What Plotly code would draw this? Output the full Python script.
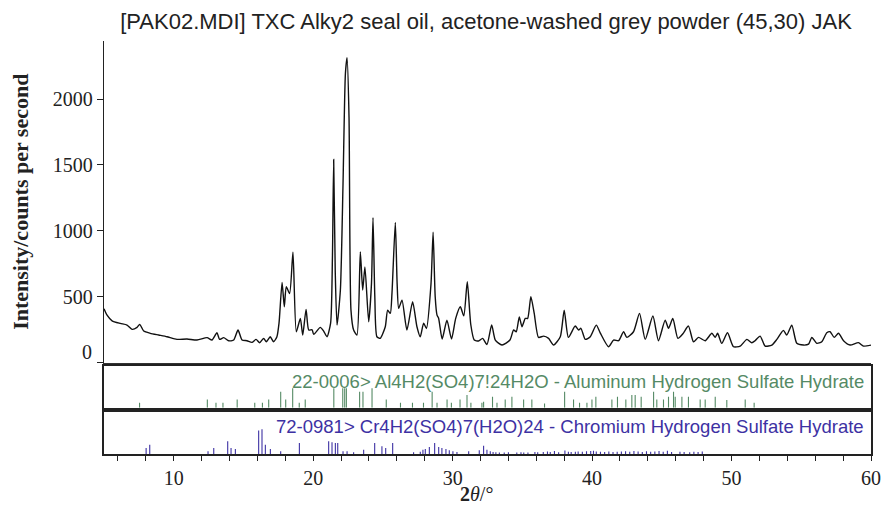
import plotly.graph_objects as go

# ---------------- data ----------------
two_theta = [5.0, 5.22, 5.58, 6.17, 6.65, 7.01, 7.37, 7.56, 7.85, 8.32, 8.92, 9.52, 10.23, 10.95,
             11.67, 12.39, 12.74, 13.1, 13.29, 13.58, 13.94, 14.3, 14.61, 14.9, 15.25, 15.61, 15.9,
             16.16, 16.45, 16.64, 16.92, 17.16, 17.4, 17.55, 17.77, 17.93, 18.07, 18.31, 18.55, 18.79,
             19.08, 19.25, 19.49, 19.68, 19.92, 20.04, 20.51, 20.75, 20.99, 21.25, 21.38, 21.47, 21.58,
             21.71, 21.95, 22.14, 22.31, 22.43, 22.57, 22.71, 22.9, 23.14, 23.38, 23.55, 23.71, 23.98,
             24.18, 24.29, 24.42, 24.57, 24.81, 25.17, 25.34, 25.53, 25.65, 25.89, 26.02, 26.13, 26.37,
             26.72, 27.13, 27.44, 27.68, 27.92, 28.12, 28.45, 28.6, 28.75, 28.88, 28.99, 29.25, 29.59,
             29.92, 30.22, 30.55, 30.8, 31.05, 31.3, 31.55, 31.86, 32.15, 32.46, 32.8, 33.06, 33.54,
             34.11, 34.37, 34.56, 34.78, 34.97, 35.21, 35.38, 35.61, 35.85, 36.16, 36.52, 36.88, 37.24,
             37.72, 38.0, 38.3, 38.79, 39.03, 39.2, 39.51, 39.87, 40.3, 40.58, 41.18, 41.54, 41.9,
             42.26, 42.49, 42.97, 43.4, 43.81, 44.36, 44.76, 45.24, 45.48, 45.79, 46.15, 46.51, 46.91,
             47.27, 47.63, 48.11, 48.59, 48.83, 49.0, 49.3, 49.71, 50.14, 50.62, 51.1, 51.45, 51.69,
             52.05, 52.41, 52.89, 53.25, 53.72, 53.96, 54.32, 54.68, 55.16, 55.52, 55.76, 56.11, 56.47,
             56.83, 57.07, 57.36, 57.67, 58.03, 58.5, 59.1, 59.46, 60.0]
intensity = [410, 361, 318, 298, 286, 253, 268, 291, 240, 223, 210, 197, 177, 180,
             172, 190, 172, 227, 177, 190, 167, 172, 248, 172, 167, 154, 177,
             152, 185, 159, 197, 159, 197, 300, 608, 424, 576, 525, 838, 235,
             336, 210, 404, 248, 250, 215, 268, 240, 197, 300, 800, 1541, 700,
             286, 551, 1359, 2192, 2314, 1864, 399, 248, 210, 841, 551, 727, 311,
             600, 1100, 500, 197, 185, 273, 399, 374, 526, 1063, 600, 412, 475,
             248, 462, 273, 197, 300, 260, 600, 990, 500, 361, 340, 180, 323,
             180, 336, 424, 355, 614, 290, 172, 165, 185, 138, 286, 172, 134,
             172, 248, 235, 348, 273, 336, 336, 500, 374, 192, 202, 185, 134,
             197, 399, 192, 278, 248, 261, 177, 197, 285, 227, 121, 172, 167,
             235, 192, 235, 374, 177, 354, 167, 323, 261, 336, 185, 220, 278,
             159, 192, 167, 223, 192, 223, 147, 227, 121, 126, 177, 152, 167,
             202, 126, 134, 177, 245, 210, 285, 147, 134, 141, 192, 147, 159,
             227, 235, 192, 223, 167, 134, 152, 126, 134]

al_pos = [7.55, 12.41, 13.03, 13.53, 14.55, 15.81, 16.36, 16.81, 17.67, 18.03, 18.53, 19.0, 19.43,
          21.48, 22.12, 22.26, 22.38, 23.33, 23.57, 24.22, 25.24, 26.26, 27.12, 27.91, 28.53, 28.88,
          29.6, 29.91, 30.53, 31.03, 31.31, 32.1, 32.22, 32.86, 33.18, 33.77, 34.25, 35.09, 35.68,
          36.59, 38.03, 38.67, 39.1, 39.63, 39.99, 40.27, 41.42, 41.82, 42.42, 42.85, 43.09, 43.52,
          44.41, 44.64, 45.12, 45.48, 45.84, 45.96, 46.44, 46.91, 47.75, 48.11, 48.83, 49.66, 50.98,
          51.62]
al_int = [26, 43, 26, 26, 43, 26, 26, 43, 83, 43, 100, 26, 43,
          100, 100, 100, 100, 83, 83, 100, 43, 26, 26, 26, 83, 26,
          43, 26, 43, 66, 26, 26, 31, 57, 26, 43, 57, 43, 43,
          22, 83, 43, 26, 26, 43, 57, 43, 57, 43, 66, 66, 57,
          83, 43, 43, 57, 83, 57, 57, 57, 43, 43, 57, 40, 43,
          26]

cr_pos = [8.02, 8.28, 12.46, 12.87, 13.87, 14.11, 14.42, 16.09, 16.33, 16.57, 16.93, 17.67, 19.01,
          21.11, 21.35, 21.59, 21.76, 22.14, 22.43, 22.9, 23.62, 24.41, 24.93, 25.2, 25.7, 27.2,
          27.68, 27.87, 28.04, 28.33, 28.71, 29.0, 29.23, 29.52, 29.76, 30.02, 30.31, 31.15, 31.91,
          32.22, 32.46, 32.7, 32.9, 33.1, 33.35, 33.7, 34.0, 34.6, 34.9, 35.1, 35.4, 35.9, 36.1,
          36.5, 36.8, 37.0, 37.3, 37.6, 38.05, 38.3, 38.5, 38.8, 39.0, 39.3, 39.6, 39.9, 40.1,
          40.3, 40.6, 40.9, 41.2, 41.5, 41.8, 42.1, 42.4, 42.7, 43.0, 43.3, 43.6, 43.9, 44.2,
          44.5, 44.8, 45.1, 45.4, 45.7, 46.3, 46.6, 47.0, 47.3, 47.6, 47.9]
cr_int = [24, 37, 11, 24, 51, 24, 20, 95, 100, 37, 20, 11, 44,
          51, 47, 44, 44, 11, 11, 7, 17, 44, 31, 24, 44, 7,
          9, 17, 20, 28, 44, 28, 24, 20, 15, 11, 8, 11, 15,
          33, 17, 11, 8, 7, 6, 6, 7, 6, 7, 6, 6, 8, 7,
          8, 10, 8, 12, 7, 14, 9, 8, 9, 10, 9, 11, 12, 13,
          10, 9, 8, 10, 8, 9, 10, 11, 9, 12, 10, 8, 11, 9,
          10, 12, 9, 13, 8, 9, 8, 7, 9, 8, 10]

x_tick_vals = [6, 8, 10, 12, 14, 16, 18, 20, 22, 24, 26, 28, 30, 32, 34, 36, 38, 40, 42, 44,
               46, 48, 50, 52, 54, 56, 58, 60]
x_tick_text = ["", "", "10", "", "", "", "", "20", "", "", "", "", "30", "", "", "", "", "40",
               "", "", "", "", "50", "", "", "", "", "60"]
y_tick_vals = [0, 500, 1000, 1500, 2000]
y_tick_text = ["", "500", "1000", "1500", "2000"]

title_text = "[PAK02.MDI] TXC Alky2 seal oil, acetone-washed grey powder (45,30) JAK"
al_label = "22-0006> Al4H2(SO4)7!24H2O - Aluminum Hydrogen Sulfate Hydrate"
cr_label = "72-0981> Cr4H2(SO4)7(H2O)24 - Chromium Hydrogen Sulfate Hydrate"

AL_COLOR = "#558a65"
CR_COLOR = "#3d31a3"
SERIF = "Liberation Serif"
SANS = "Liberation Sans"


def sticks(pos, inten):
    xs, ys = [], []
    for p, h in zip(pos, inten):
        xs += [p, p, None]
        ys += [0, h, None]
    return xs, ys


fig = go.Figure()
fig.add_trace(go.Scatter(x=two_theta, y=intensity, mode="lines",
                         line=dict(color="#111111", width=1.4, shape="spline", smoothing=0.6),
                         xaxis="x", yaxis="y", showlegend=False, hoverinfo="skip"))
ax, ay = sticks(al_pos, al_int)
fig.add_trace(go.Scatter(x=ax, y=ay, mode="lines", line=dict(color=AL_COLOR, width=1.1),
                         xaxis="x2", yaxis="y2", showlegend=False, hoverinfo="skip"))
cx, cy = sticks(cr_pos, cr_int)
fig.add_trace(go.Scatter(x=cx, y=cy, mode="lines", line=dict(color=CR_COLOR, width=1.1),
                         xaxis="x3", yaxis="y3", showlegend=False, hoverinfo="skip"))

common_x = dict(range=[5, 60], showgrid=False, zeroline=False, automargin=False)
fig.update_layout(
    width=883, height=508,
    margin=dict(l=104, r=12, t=41, b=54, autoexpand=False),
    paper_bgcolor="white", plot_bgcolor="white",
    title=dict(text=title_text, x=486 / 883, xref="container", xanchor="center",
               y=1 - 21 / 508, yref="container", yanchor="middle", automargin=False,
               font=dict(family=SANS, size=22, color="#222222")),
    xaxis=dict(anchor="y", domain=[0, 1], showline=True, linecolor="#333333", linewidth=1.5,
               ticks="", showticklabels=False, **common_x),
    yaxis=dict(anchor="x", domain=[0.221, 1], range=[0, 2440], showline=True,
               linecolor="#222222", linewidth=1.3, ticks="outside", ticklen=6,
               tickcolor="#222222", tickvals=y_tick_vals, ticktext=y_tick_text,
               tickfont=dict(family=SERIF, size=20, color="#222222"),
               showgrid=False, zeroline=False, automargin=False),
    xaxis2=dict(anchor="y2", domain=[0, 1], showline=True, mirror=True, linecolor="#222222",
                linewidth=1.5, ticks="", showticklabels=False, **common_x),
    yaxis2=dict(anchor="x2", domain=[0.112, 0.212], range=[0, 213], showline=True, mirror=True,
                linecolor="#222222", linewidth=1.5, ticks="", showticklabels=False,
                showgrid=False, zeroline=False, automargin=False),
    xaxis3=dict(anchor="y3", domain=[0, 1], showline=True, mirror=True, linecolor="#222222",
                linewidth=1.5, ticks="outside", ticklen=5, tickcolor="#222222",
                tickvals=x_tick_vals, ticktext=x_tick_text,
                tickfont=dict(family=SERIF, size=20, color="#222222"), **common_x),
    yaxis3=dict(anchor="x3", domain=[0, 0.102], range=[0, 170], showline=True, mirror=True,
                linecolor="#222222", linewidth=1.5, ticks="", showticklabels=False,
                showgrid=False, zeroline=False, automargin=False),
    annotations=[
        dict(text="<b>Intensity/counts per second</b>", textangle=-90, xref="paper", x=0,
             xshift=-83, xanchor="center", yref="y domain", y=0.5, yanchor="middle",
             showarrow=False, font=dict(family=SERIF, size=22, color="#222222")),
        dict(text="0", xref="paper", x=0, xshift=-10, xanchor="right", yref="y", y=81,
             yanchor="middle", showarrow=False, font=dict(family=SERIF, size=20, color="#222222")),
        dict(text="<b>2</b><i>θ</i>/°", xref="paper", x=(476 - 104) / 767, xanchor="center",
             yref="paper", y=0, yshift=-40, yanchor="middle", showarrow=False,
             font=dict(family=SERIF, size=20, color="#222222")),
        dict(text=al_label, xref="paper", x=1, xshift=-5, xanchor="right", yref="y2 domain",
             y=0.63, yanchor="middle", showarrow=False,
             font=dict(family=SANS, size=18.5, color=AL_COLOR)),
        dict(text=cr_label, xref="paper", x=1, xshift=-5, xanchor="right", yref="y3 domain",
             y=0.66, yanchor="middle", showarrow=False,
             font=dict(family=SANS, size=18.5, color=CR_COLOR)),
    ],
)

fig.write_html("out.html")
